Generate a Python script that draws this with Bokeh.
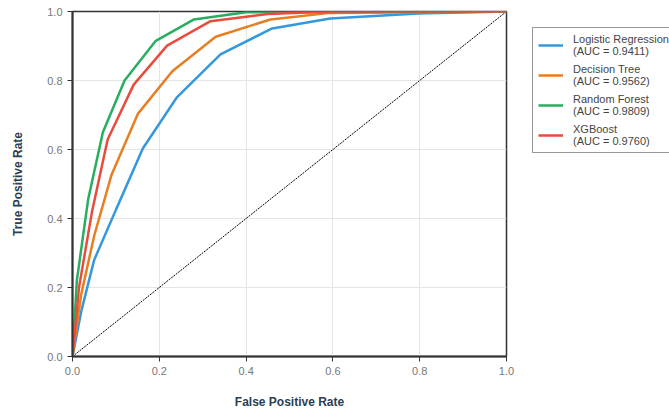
from bokeh.plotting import figure
from bokeh.models import Legend, LegendItem, Range1d, FixedTicker, CustomJSTickFormatter
from bokeh.embed import file_html
from bokeh.resources import INLINE

# ROC data
lr_fpr = [0.0, 0.02, 0.05, 0.10, 0.162, 0.241, 0.341, 0.46, 0.594, 0.797, 1.0]
lr_tpr = [0.0, 0.13, 0.28, 0.425, 0.603, 0.752, 0.876, 0.951, 0.98, 0.994, 1.0]

dt_fpr = [0.0, 0.02, 0.05, 0.09, 0.151, 0.23, 0.33, 0.456, 0.594, 1.0]
dt_tpr = [0.0, 0.18, 0.35, 0.527, 0.704, 0.827, 0.927, 0.977, 0.996, 1.0]

rf_fpr = [0.0, 0.01, 0.036, 0.07, 0.12, 0.191, 0.28, 0.40, 1.0]
rf_tpr = [0.0, 0.22, 0.455, 0.65, 0.80, 0.914, 0.977, 0.998, 1.0]

xgb_fpr = [0.0, 0.015, 0.045, 0.081, 0.141, 0.218, 0.318, 0.45, 0.6, 1.0]
xgb_tpr = [0.0, 0.2, 0.42, 0.629, 0.788, 0.901, 0.972, 0.993, 1.0, 1.0]

labels = ["Logistic Regression\n(AUC = 0.9411)",
          "Decision Tree\n(AUC = 0.9562)",
          "Random Forest\n(AUC = 0.9809)",
          "XGBoost\n(AUC = 0.9760)"]
colors = ["#3498db", "#e67e22", "#27ae60", "#e74c3c"]
ticks = [0.0, 0.2, 0.4, 0.6, 0.8, 1.0]
diag = [0.0, 1.0]

p = figure(frame_width=434, frame_height=345, output_backend="svg", toolbar_location=None,
           x_range=Range1d(0, 1), y_range=Range1d(0, 1),
           min_border_left=72, min_border_top=11, min_border_bottom=51,
           min_border_right=10)

p.line(diag, diag, line_color="black", line_width=1, line_dash="2 1")

series = [(lr_fpr, lr_tpr), (dt_fpr, dt_tpr), (rf_fpr, rf_tpr), (xgb_fpr, xgb_tpr)]
items = []
for (fx, fy), c, lab in zip(series, colors, labels):
    r = p.line(fx, fy, line_color=c, line_width=2.5)
    items.append(LegendItem(label=lab, renderers=[r]))

legend = Legend(items=items, location=(26, 203))
legend.label_text_font = "Liberation Sans"
legend.label_text_font_size = "11px"
legend.label_text_color = "#444444"
legend.border_line_color = "#333333"
legend.border_line_width = 1
legend.glyph_width = 25
legend.spacing = 6
legend.padding = 5
legend.margin = 0
legend.label_standoff = 10
p.add_layout(legend, "right")

fmt = CustomJSTickFormatter(code="return tick.toFixed(1);")
for ax in (p.xaxis, p.yaxis):
    ax.ticker = FixedTicker(ticks=ticks)
    ax.formatter = fmt
    ax.axis_line_color = "#333333"
    ax.axis_line_width = 2
    ax.major_tick_line_color = "#333333"
    ax.major_tick_line_width = 1
    ax.major_tick_in = 0
    ax.major_tick_out = 5
    ax.minor_tick_line_color = None
    ax.major_label_text_font = "Liberation Sans"
    ax.major_label_text_font_size = "11px"
    ax.major_label_text_color = "#777777"
    ax.axis_label_text_font = "Liberation Sans"
    ax.axis_label_text_font_size = "12px"
    ax.axis_label_text_font_style = "bold"
    ax.axis_label_text_color = "#2c3e50"

p.xaxis.axis_label = "False Positive Rate"
p.yaxis.axis_label = "True Positive Rate"
p.xaxis.axis_label_standoff = 17
p.yaxis.axis_label_standoff = 19

p.xgrid.grid_line_color = "#e5e5e5"
p.ygrid.grid_line_color = "#e5e5e5"
p.outline_line_color = "#333333"
p.outline_line_width = 1.5
p.outline_line_alpha = 1

open("out.html", "w").write(file_html(p, INLINE))
